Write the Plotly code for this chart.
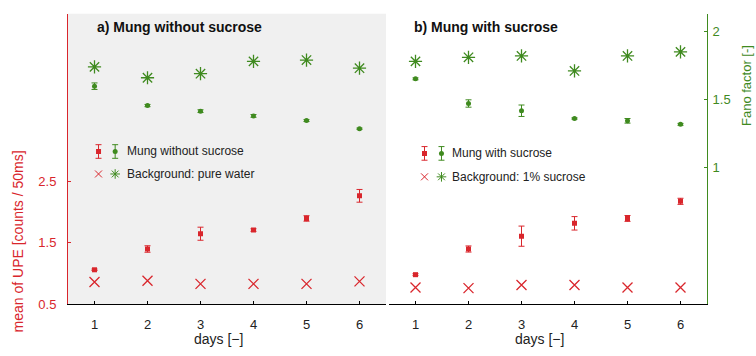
import plotly.graph_objects as go

# ---------------- data ----------------
days = [1, 2, 3, 4, 5, 6]
day_ticks = [1, 2, 3, 4, 5, 6]
upe_ticks = [0.5, 1.5, 2.5]
fano_ticks = [1, 1.5, 2]

# a) Mung without sucrose
upe_a = [1.06, 1.40, 1.65, 1.71, 1.90, 2.27]
upe_a_err = [0.012, 0.053, 0.107, 0.021, 0.045, 0.104]
bg_upe_a = [0.86, 0.88, 0.83, 0.83, 0.83, 0.87]
fano_a = [1.598, 1.456, 1.415, 1.380, 1.346, 1.286]
fano_a_err = [0.024, 0.008, 0.010, 0.010, 0.007, 0.005]
bg_fano_a = [1.74, 1.66, 1.69, 1.78, 1.79, 1.73]

# b) Mung with sucrose
upe_b = [0.98, 1.40, 1.61, 1.82, 1.90, 2.18]
upe_b_err = [0.016, 0.050, 0.165, 0.110, 0.048, 0.050]
bg_upe_b = [0.77, 0.76, 0.81, 0.81, 0.77, 0.77]
fano_b = [1.652, 1.471, 1.418, 1.361, 1.344, 1.318]
fano_b_err = [0.007, 0.027, 0.042, 0.005, 0.017, 0.007]
bg_fano_b = [1.78, 1.81, 1.82, 1.71, 1.82, 1.85]

# ---------------- style ----------------
RED = "#d9262c"
GREEN = "#3f8a1f"
FONT = "Liberation Sans, Arial, sans-serif"
W, H = 756, 356

X_RANGE = [0.5, 6.5]
UPE_RANGE = [0.5, 5.25]
FANO_RANGE = [0, 2.13]
YDOM = [(356 - 311) / 356, (356 - 14) / 356]
XDOM_A = [68 / W, 386 / W]
XDOM_B = [389 / W, 707 / W]

fig = go.Figure()


def add_panel(xa, ya_upe, ya_fano, upe, upe_err, bg_upe, fano, fano_err, bg_fano):
    fig.add_trace(go.Scatter(
        x=days, y=bg_fano, xaxis=xa, yaxis=ya_fano, mode="markers",
        marker=dict(symbol="asterisk-open", size=11, color=GREEN,
                    line=dict(color=GREEN, width=1.3)),
        showlegend=False, hoverinfo="skip"))
    fig.add_trace(go.Scatter(
        x=days, y=fano, xaxis=xa, yaxis=ya_fano, mode="markers",
        marker=dict(symbol="circle", size=5, color=GREEN),
        error_y=dict(type="data", array=fano_err, color=GREEN, thickness=1, width=3),
        showlegend=False, hoverinfo="skip"))
    fig.add_trace(go.Scatter(
        x=days, y=bg_upe, xaxis=xa, yaxis=ya_upe, mode="markers",
        marker=dict(symbol="x-thin-open", size=10, color=RED,
                    line=dict(color=RED, width=1.3)),
        showlegend=False, hoverinfo="skip"))
    fig.add_trace(go.Scatter(
        x=days, y=upe, xaxis=xa, yaxis=ya_upe, mode="markers",
        marker=dict(symbol="square", size=5, color=RED),
        error_y=dict(type="data", array=upe_err, color=RED, thickness=1, width=3),
        showlegend=False, hoverinfo="skip"))


add_panel("x", "y", "y2", upe_a, upe_a_err, bg_upe_a, fano_a, fano_a_err, bg_fano_a)
add_panel("x2", "y3", "y4", upe_b, upe_b_err, bg_upe_b, fano_b, fano_b_err, bg_fano_b)


# ---------------- manual legends ----------------
def add_legend(xa, ya, xr, xg, xt, y1, y2, label1, label2):
    fig.add_trace(go.Scatter(
        x=[xr], y=[y1], xaxis=xa, yaxis=ya, mode="markers",
        marker=dict(symbol="square", size=5, color=RED),
        error_y=dict(type="constant", value=0.05, color=RED, thickness=1, width=3),
        showlegend=False, hoverinfo="skip"))
    fig.add_trace(go.Scatter(
        x=[xg], y=[y1], xaxis=xa, yaxis=ya, mode="markers",
        marker=dict(symbol="circle", size=5, color=GREEN),
        error_y=dict(type="constant", value=0.05, color=GREEN, thickness=1, width=3),
        showlegend=False, hoverinfo="skip"))
    fig.add_trace(go.Scatter(
        x=[xr], y=[y2], xaxis=xa, yaxis=ya, mode="markers",
        marker=dict(symbol="x-thin-open", size=7, color=RED,
                    line=dict(color=RED, width=1)),
        showlegend=False, hoverinfo="skip"))
    fig.add_trace(go.Scatter(
        x=[xg], y=[y2], xaxis=xa, yaxis=ya, mode="markers",
        marker=dict(symbol="asterisk-open", size=8, color=GREEN,
                    line=dict(color=GREEN, width=1)),
        showlegend=False, hoverinfo="skip"))
    for yy, txt in ((y1, label1), (y2, label2)):
        fig.add_annotation(x=xt, y=yy, xref=xa, yref=ya, text=txt, showarrow=False,
                           xanchor="left", yanchor="middle",
                           font=dict(family=FONT, size=12, color="#222222"))


add_legend("x", "y2", 1.076, 1.39, 1.58, 1.119, 0.954,
           "Mung without sucrose", "Background: pure water")
add_legend("x2", "y4", 1.17, 1.49, 1.66, 1.105, 0.933,
           "Mung with sucrose", "Background: 1% sucrose")

# ---------------- grey background panel a ----------------
fig.add_shape(type="rect", xref="x domain", yref="y domain", x0=0, x1=1, y0=0, y1=1,
              fillcolor="#f0f0f0", line=dict(width=0), layer="below")

# ---------------- axes ----------------
xcommon = dict(range=X_RANGE, tickvals=day_ticks, ticks="inside", ticklen=3,
               tickcolor="black", showline=True, linecolor="black", linewidth=1,
               showgrid=False, zeroline=False, ticklabelstandoff=8,
               tickfont=dict(family=FONT, size=13, color="#222222"))
fig.update_layout(
    width=W, height=H, margin=dict(l=0, r=0, t=0, b=0),
    paper_bgcolor="white", plot_bgcolor="rgba(0,0,0,0)",
    showlegend=False, font=dict(family=FONT),
    xaxis=dict(domain=XDOM_A, anchor="y", **xcommon),
    xaxis2=dict(domain=XDOM_B, anchor="y3", **xcommon),
    yaxis=dict(domain=YDOM, anchor="x", range=UPE_RANGE, tickvals=upe_ticks,
               ticktext=["0.5", "1.5", "2.5"],
               ticks="inside", ticklen=3, tickcolor=RED, showline=True,
               linecolor=RED, linewidth=1, showgrid=False, zeroline=False,
               ticklabelstandoff=8,
               tickfont=dict(family=FONT, size=13, color=RED)),
    yaxis2=dict(overlaying="y", anchor="x", range=FANO_RANGE, visible=False),
    yaxis3=dict(domain=YDOM, anchor="x2", range=UPE_RANGE, visible=False),
    yaxis4=dict(overlaying="y3", anchor="x2", side="right", range=FANO_RANGE,
                tickvals=fano_ticks, ticktext=["1", "1.5", "2"],
                ticks="inside", ticklen=3, tickcolor=GREEN, showline=True,
                linecolor=GREEN, linewidth=1, showgrid=False, zeroline=False,
                ticklabelstandoff=2,
                tickfont=dict(family=FONT, size=13, color=GREEN)),
)

# ---------------- titles ----------------
fig.add_annotation(x=95 / W, y=(356 - 28) / 356, xref="paper", yref="paper",
                   text="<b>a) Mung without sucrose</b>", showarrow=False,
                   xanchor="left", yanchor="middle",
                   font=dict(family=FONT, size=14, color="#111111"))
fig.add_annotation(x=412 / W, y=(356 - 28) / 356, xref="paper", yref="paper",
                   text="<b>b) Mung with sucrose</b>", showarrow=False,
                   xanchor="left", yanchor="middle",
                   font=dict(family=FONT, size=14, color="#111111"))
fig.add_annotation(x=18 / W, y=(356 - 247) / 356, xref="paper", yref="paper",
                   text="mean of UPE [counts / 50ms]", showarrow=False, textangle=-90,
                   xanchor="center", yanchor="middle",
                   font=dict(family=FONT, size=14, color=RED))
fig.add_annotation(x=746 / W, y=(356 - 88) / 356, xref="paper", yref="paper",
                   text="Fano factor [-]", showarrow=False, textangle=-90,
                   xanchor="center", yanchor="middle",
                   font=dict(family=FONT, size=13, color=GREEN))
for xc in (218, 539):
    fig.add_annotation(x=xc / W, y=(356 - 347) / 356, xref="paper", yref="paper",
                       text="days [−]", showarrow=False,
                       xanchor="center", yanchor="middle",
                       font=dict(family=FONT, size=14, color="#222222"))

fig.write_html("out.html")
